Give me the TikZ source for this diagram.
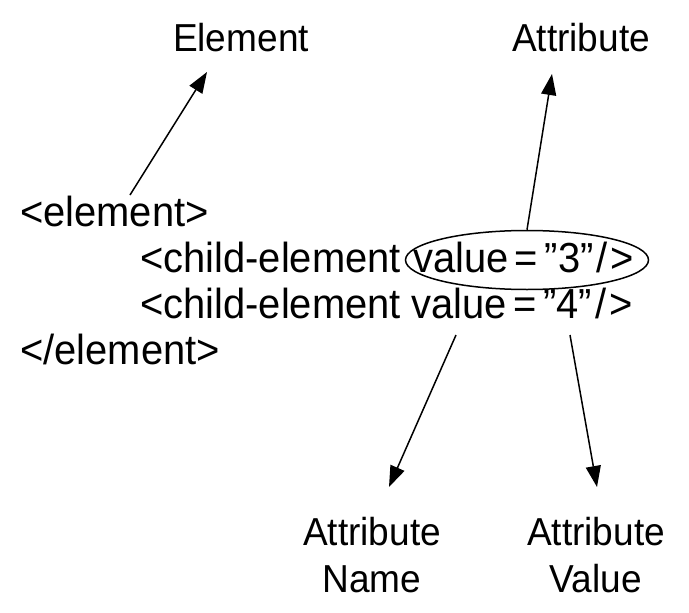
\documentclass[tikz,border=0pt]{standalone}
\usepackage{fontspec}
\setmainfont{Liberation Sans}
\newfontfamily\narrowfont[FakeStretch=0.95]{Liberation Sans}
\usetikzlibrary{arrows.meta,shapes.geometric}
\begin{document}
\begin{tikzpicture}[x=1pt,y=1pt,
  txt/.style={inner sep=0pt,font=\narrowfont\fontsize{42}{47}\selectfont},
  lbl/.style={inner sep=0pt,align=center,font=\narrowfont\fontsize{39}{47}\selectfont},
  arr/.style={line width=1.5pt,-{Triangle[length=21pt,width=15pt]}},
  ring/.style={draw,ellipse,line width=1.5pt,minimum width=243pt,minimum height=59pt,inner sep=0pt}]
\useasboundingbox (0,0) rectangle (689,-613);
% labels
\node[lbl,anchor=base] (elab) at (241,-52) {Element};
\node[lbl,anchor=base] (alab) at (581,-52) {Attribute};
\node[lbl,anchor=base] (nlab) at (372,-592) {Attribute\\Name};
\node[lbl,anchor=base] (vlab) at (596,-592) {Attribute\\Value};
% code
\node[txt,anchor=base west] (l1) at (20,-226) {<element>};
\node[txt,anchor=base west] (l2a) at (140,-272) {<child-element};
\node[txt,anchor=base west] (l2b) at ([xshift=12pt]l2a.base east) {value\kern6pt=\kern7pt”3”\kern3pt/\kern3pt>};
\node[txt,anchor=base west] (l3) at (140,-318) {<child-element value\kern6pt=\kern7pt”4”\kern3pt/\kern3pt>};
\node[txt,anchor=base west] (l4) at (20,-364) {</element>};
% ellipse
\node[ring] (attr) at (527,-260) {};
% arrow ends
\coordinate (e1) at (130,-195);
\coordinate (e2) at (207,-72);
\coordinate (a2) at (552,-74);
\coordinate (n1) at (456,-335);
\coordinate (n2) at (389,-487);
\coordinate (v1) at (570,-335);
\coordinate (v2) at (597,-487);
\draw[arr] (e1) -- (e2);
\draw[arr] (attr.north) -- (a2);
\draw[arr] (n1) -- (n2);
\draw[arr] (v1) -- (v2);
\end{tikzpicture}
\end{document}
